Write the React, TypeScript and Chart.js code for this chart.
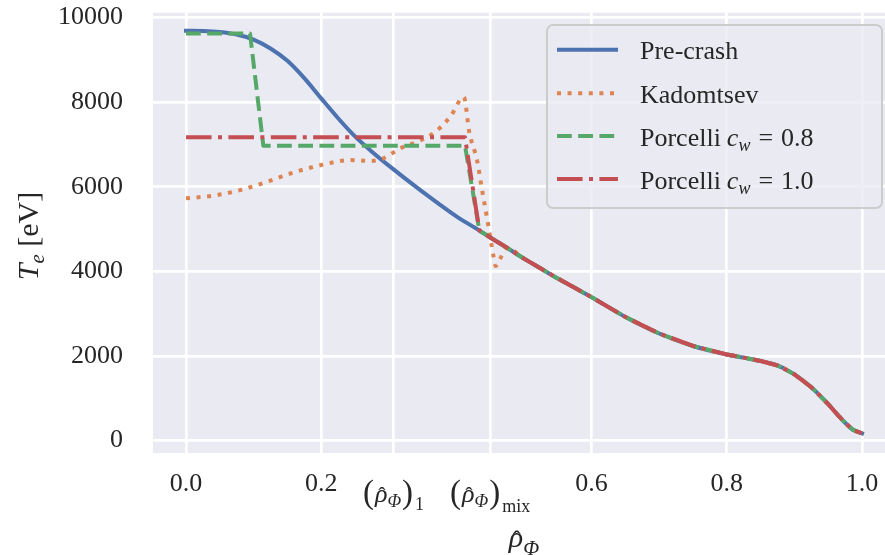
import React, { useEffect, useRef } from 'react';
import { Chart, registerables } from 'chart.js';

Chart.register(...registerables);

const FAMILY = '"Liberation Serif", "DejaVu Serif", "Times New Roman", serif';
const INK = '#262626';
const BG = '#EAEAF2';
const BLUE = '#4C72B0';
const ORANGE = '#DD8452';
const GREEN = '#55A868';
const RED = '#C44E52';
const LW = 4;

// ---- data ----
// Pre-crash profile: core part and outer part (outer part shared by all models)
const preHeadX = [0, 0.025, 0.05, 0.075, 0.1, 0.125, 0.15, 0.175, 0.2, 0.225, 0.25, 0.275, 0.3, 0.35, 0.4];
const preHeadT = [9690, 9685, 9660, 9600, 9480, 9270, 8980, 8570, 8090, 7620, 7190, 6830, 6500, 5880, 5300];
const tailX = [0.434, 0.45, 0.475, 0.5, 0.525, 0.55, 0.575, 0.6, 0.65, 0.7, 0.75, 0.8, 0.825, 0.85, 0.875, 0.9, 0.925, 0.95, 0.965, 0.975, 0.987, 1.0];
const tailT = [4965, 4800, 4556, 4300, 4065, 3830, 3610, 3390, 2920, 2530, 2235, 2035, 1960, 1880, 1775, 1565, 1260, 860, 590, 420, 250, 170];

// Kadomtsev profile inside the mixing region
const kadX = [0, 0.045, 0.08, 0.12, 0.155, 0.2, 0.243, 0.272, 0.292, 0.317, 0.342, 0.366, 0.391, 0.411, 0.419, 0.431, 0.438, 0.445, 0.45, 0.455, 0.458, 0.465, 0.475];
const kadT = [5726, 5800, 5920, 6118, 6317, 6513, 6631, 6610, 6671, 6908, 7064, 7262, 7655, 8121, 7300, 6591, 5922, 5291, 4818, 4345, 4125, 4307, 4556];

// Porcelli c_w = 0.8
const p08X = [0, 0.0947, 0.1144, 0.4127];
const p08T = [9625, 9625, 6970, 6970];

// Porcelli c_w = 1.0
const p10X = [0, 0.4127];
const p10T = [7168, 7168];

// axes
const xMin = -0.0488;
const xMax = 1.034;
const yMin = -295;
const yMax = 10115;
const xTickValues = [0, 0.2, 0.307, 0.45, 0.6, 0.8, 1.0];
const xTickLabels = ['0.0', '0.2', '', '', '0.6', '0.8', '1.0'];
const yTickValues = [0, 2000, 4000, 6000, 8000, 10000];

const legendLabels = ['Pre-crash', 'Kadomtsev', 'Porcelli', 'Porcelli'];
const legendCw = ['', '', '0.8', '1.0'];

const pts = (xs: number[], ts: number[]) => xs.map((x, i) => ({ x, y: ts[i] }));
const withTail = (xs: number[], ts: number[], after: number) => {
  const px = [...xs];
  const pt = [...ts];
  tailX.forEach((x, i) => {
    if (x > after) {
      px.push(x);
      pt.push(tailT[i]);
    }
  });
  return pts(px, pt);
};

const font = (size: number, italic = false) => `${italic ? 'italic ' : ''}${size}px ${FAMILY}`;

type Run = { t: string; f: string; dy?: number; dx?: number; hat?: { f: string; dy: number; pos: number } };

function measureRuns(ctx: CanvasRenderingContext2D, runs: Run[]) {
  let w = 0;
  for (const r of runs) {
    ctx.font = r.f;
    w += (r.dx || 0) + ctx.measureText(r.t).width;
  }
  return w;
}

function drawRuns(ctx: CanvasRenderingContext2D, runs: Run[], x: number, y: number) {
  for (const r of runs) {
    x += r.dx || 0;
    ctx.font = r.f;
    ctx.textAlign = 'left';
    ctx.fillText(r.t, x, y + (r.dy || 0));
    const w = ctx.measureText(r.t).width;
    if (r.hat) {
      ctx.font = r.hat.f;
      ctx.textAlign = 'center';
      ctx.fillText('\u02C6', x + w * r.hat.pos, y + r.hat.dy);
      ctx.textAlign = 'left';
    }
    x += w;
  }
  return x;
}

const tickRho = (sub: string): Run[] => [
  { t: '(', f: font(33), dy: 1 },
  { t: 'ρ', f: font(26, true), dx: 1, hat: { f: font(22), dy: 0, pos: 0.55 } },
  { t: 'Φ', f: font(18, true), dy: 5 },
  { t: ')', f: font(33), dy: 1, dx: 1 },
  { t: sub, f: font(18), dy: sub === '1' ? 8 : 10, dx: 2 },
];

const bgPlugin = {
  id: 'bg',
  beforeDraw(chart: any) {
    const { ctx, chartArea: a } = chart;
    ctx.save();
    ctx.fillStyle = '#ffffff';
    ctx.fillRect(0, 0, chart.width, chart.height);
    ctx.fillStyle = BG;
    ctx.fillRect(a.left, a.top, a.right - a.left, a.bottom - a.top);
    ctx.restore();
  },
};

const textPlugin = {
  id: 'texts',
  afterDraw(chart: any) {
    const ctx: CanvasRenderingContext2D = chart.ctx;
    const xs = chart.scales.x;
    ctx.save();
    ctx.fillStyle = INK;
    ctx.textBaseline = 'alphabetic';

    // math tick labels
    const mathTicks: [number, string][] = [[xTickValues[2], '1'], [xTickValues[3], 'mix']];
    for (const [v, sub] of mathTicks) {
      const runs = tickRho(sub);
      const w = measureRuns(ctx, runs);
      drawRuns(ctx, runs, xs.getPixelForValue(v) - w / 2, 502);
    }

    // x title
    const xt: Run[] = [
      { t: 'ρ', f: font(30, true), hat: { f: font(24), dy: 0, pos: 0.55 } },
      { t: 'Φ', f: font(21, true), dy: 8 },
    ];
    const xw = measureRuns(ctx, xt);
    drawRuns(ctx, xt, (chart.chartArea.left + 895) / 2 - xw / 2, 547);

    // y title
    const yt: Run[] = [
      { t: 'T', f: font(30, true) },
      { t: 'e', f: font(21, true), dy: 6 },
      { t: ' [eV]', f: font(30) },
    ];
    const yw = measureRuns(ctx, yt);
    ctx.save();
    ctx.translate(38, 236);
    ctx.rotate(-Math.PI / 2);
    drawRuns(ctx, yt, -yw / 2, 0);
    ctx.restore();

    // legend
    const lx = 547, ly = 25, lw = 335, lh = 183, r = 6;
    ctx.beginPath();
    ctx.moveTo(lx + r, ly);
    ctx.arcTo(lx + lw, ly, lx + lw, ly + lh, r);
    ctx.arcTo(lx + lw, ly + lh, lx, ly + lh, r);
    ctx.arcTo(lx, ly + lh, lx, ly, r);
    ctx.arcTo(lx, ly, lx + lw, ly, r);
    ctx.closePath();
    ctx.fillStyle = 'rgba(234,234,242,0.8)';
    ctx.fill();
    ctx.lineWidth = 2;
    ctx.strokeStyle = '#cccccc';
    ctx.stroke();

    const colors = [BLUE, ORANGE, GREEN, RED];
    const dashes = [[], [LW * 1, LW * 1.65], [LW * 3.7, LW * 1.6], [LW * 6.4, LW * 1.6, LW * 1, LW * 1.6]];
    const caps: CanvasLineCap[] = ['square', 'butt', 'butt', 'butt'];
    const baselines = [59.3, 102.7, 145.5, 188.5];
    for (let i = 0; i < 4; i++) {
      const by = baselines[i];
      ctx.beginPath();
      ctx.setLineDash(dashes[i]);
      ctx.lineCap = caps[i];
      ctx.lineWidth = LW;
      ctx.strokeStyle = colors[i];
      ctx.moveTo(i === 0 ? 559 : 557, by - 9.5);
      ctx.lineTo(i === 0 ? 616 : 618, by - 9.5);
      ctx.stroke();
      ctx.setLineDash([]);
      ctx.fillStyle = INK;
      const runs: Run[] = [{ t: legendLabels[i], f: font(26) }];
      if (legendCw[i]) {
        runs.push({ t: 'c', f: font(26, true), dx: 6 });
        runs.push({ t: 'w', f: font(18, true), dy: 5 });
        runs.push({ t: '=', f: font(26), dx: 8 });
        runs.push({ t: legendCw[i], f: font(26), dx: 8 });
      }
      drawRuns(ctx, runs, 640, by);
    }
    ctx.restore();
  },
};

export default function App() {
  const ref = useRef<HTMLCanvasElement>(null);
  useEffect(() => {
    document.body.style.margin = '0';
    const canvas = ref.current!;
    const common = { pointRadius: 0, borderWidth: LW, borderJoinStyle: 'round' as const, fill: false };
    const chart = new Chart(canvas, {
      type: 'line',
      data: {
        datasets: [
          {
            label: 'Pre-crash',
            data: pts([...preHeadX, ...tailX], [...preHeadT, ...tailT]),
            borderColor: BLUE,
            cubicInterpolationMode: 'monotone',
            borderCapStyle: 'square',
            order: 4,
            ...common,
          },
          {
            label: 'Kadomtsev',
            data: withTail(kadX, kadT, 0.475),
            borderColor: ORANGE,
            cubicInterpolationMode: 'monotone',
            borderDash: [LW * 1, LW * 1.65],
            borderCapStyle: 'butt',
            order: 3,
            ...common,
          },
          {
            label: 'Porcelli c_w = 0.8',
            data: withTail(p08X, p08T, 0.42),
            borderColor: GREEN,
            tension: 0,
            borderDash: [LW * 3.7, LW * 1.6],
            borderCapStyle: 'butt',
            order: 2,
            ...common,
          },
          {
            label: 'Porcelli c_w = 1.0',
            data: withTail(p10X, p10T, 0.42),
            borderColor: RED,
            tension: 0,
            borderDash: [LW * 6.4, LW * 1.6, LW * 1, LW * 1.6],
            borderCapStyle: 'butt',
            order: 1,
            ...common,
          },
        ],
      },
      options: {
        animation: false,
        responsive: false,
        maintainAspectRatio: false,
        layout: { padding: { top: 12.7, right: 0, bottom: 0, left: 0 } },
        plugins: { legend: { display: false }, tooltip: { enabled: false }, title: { display: false } },
        scales: {
          x: {
            type: 'linear',
            min: xMin,
            max: xMax,
            afterBuildTicks: (s: any) => {
              s.ticks = xTickValues.map((v) => ({ value: v }));
            },
            afterFit: (s: any) => {
              s.height = 102;
              s.paddingLeft = 0;
              s.paddingRight = 0;
            },
            grid: { color: '#ffffff', lineWidth: 2.7, drawTicks: false },
            border: { display: false },
            ticks: {
              autoSkip: false,
              maxRotation: 0,
              padding: 16,
              color: INK,
              font: { family: FAMILY, size: 26 },
              callback: (_v: any, i: number) => xTickLabels[i],
            },
          },
          y: {
            type: 'linear',
            min: yMin,
            max: yMax,
            afterBuildTicks: (s: any) => {
              s.ticks = yTickValues.map((v) => ({ value: v }));
            },
            afterFit: (s: any) => {
              s.width = 153;
              s.paddingTop = 0;
              s.paddingBottom = 0;
            },
            grid: { color: '#ffffff', lineWidth: 2.7, drawTicks: false },
            border: { display: false },
            ticks: {
              padding: 30,
              color: INK,
              font: { family: FAMILY, size: 26 },
              callback: (v: any) => String(v),
            },
          },
        },
      },
      plugins: [bgPlugin, textPlugin],
    } as any);
    return () => chart.destroy();
  }, []);
  return <canvas ref={ref} width={885} height={555} style={{ display: 'block', width: 885, height: 555 }} />;
}
